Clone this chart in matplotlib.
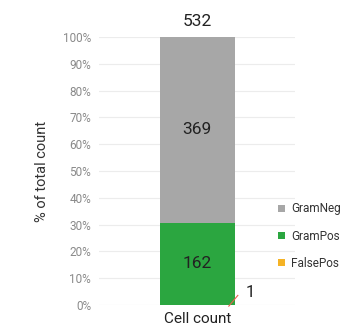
import numpy as np
import matplotlib
matplotlib.use("Agg")
import matplotlib.pyplot as plt

plt.rcParams['font.family'] = ['Roboto', 'DejaVu Sans']

# data
category = "Cell count"
series = ["FalsePos", "GramPos", "GramNeg"]   # bottom to top
counts = [1, 162, 369]
colors = ["#f5b325", "#2ba640", "#a7a7a7"]
yticks = [0, 10, 20, 30, 40, 50, 60, 70, 80, 90, 100]

total = sum(counts)
pct = [c / total * 100 for c in counts]

fig = plt.figure(figsize=(3.43, 3.28), dpi=100)
ax = fig.add_axes([0.29, 0.07, 0.57, 0.817])

bottom = 0
handles = []
for name, p, c, col in zip(series, pct, counts, colors):
    b = ax.bar(0, p, width=1.0, bottom=bottom, color=col, label=name, zorder=3)
    handles.append(b)
    if c > 10:
        ax.text(0, bottom + p / 2, str(c), ha='center', va='center',
                fontsize=12.5, color='#222222', zorder=4)
    else:
        # small slice: leader line to label
        ax.plot([0.42, 0.54], [bottom + p / 2 - 0.5, bottom + p / 2 + 3.5],
                color='#e8604c', lw=0.8, zorder=4, clip_on=False)
        ax.text(0.64, bottom + p / 2 + 4.5, str(c), ha='left', va='center',
                fontsize=12, color='#222222')
    bottom += p

ax.text(0, 103, str(total), ha='center', va='bottom', fontsize=12.5, color='#222222')

ax.set_xlim(-1.3, 1.3)
ax.set_ylim(0, 100)
ax.set_yticks(yticks)
ax.set_yticklabels([f"{t}%" for t in yticks], fontsize=8.5, color='#8a8a8a')
ax.set_xticks([0])
ax.set_xticklabels([category], fontsize=11, color='#222222')
ax.tick_params(length=0, pad=6)
ax.tick_params(axis='x', pad=5)
ax.set_ylabel("% of total count", fontsize=10.5, color='#333333', labelpad=10)
ax.grid(axis='y', color='#ececec', lw=0.8, zorder=0)
for s in ax.spines.values():
    s.set_visible(False)

leg = fig.legend(handles=handles[::-1], labels=series[::-1],
                 loc='center left', bbox_to_anchor=(0.81, 0.28),
                 frameon=False, fontsize=8.5, handlelength=0.6, handleheight=0.6,
                 handletextpad=0.5, labelspacing=1.2, borderaxespad=0, borderpad=0)
for t in leg.get_texts():
    t.set_color('#333333')

fig.savefig("out.png", dpi=100)
